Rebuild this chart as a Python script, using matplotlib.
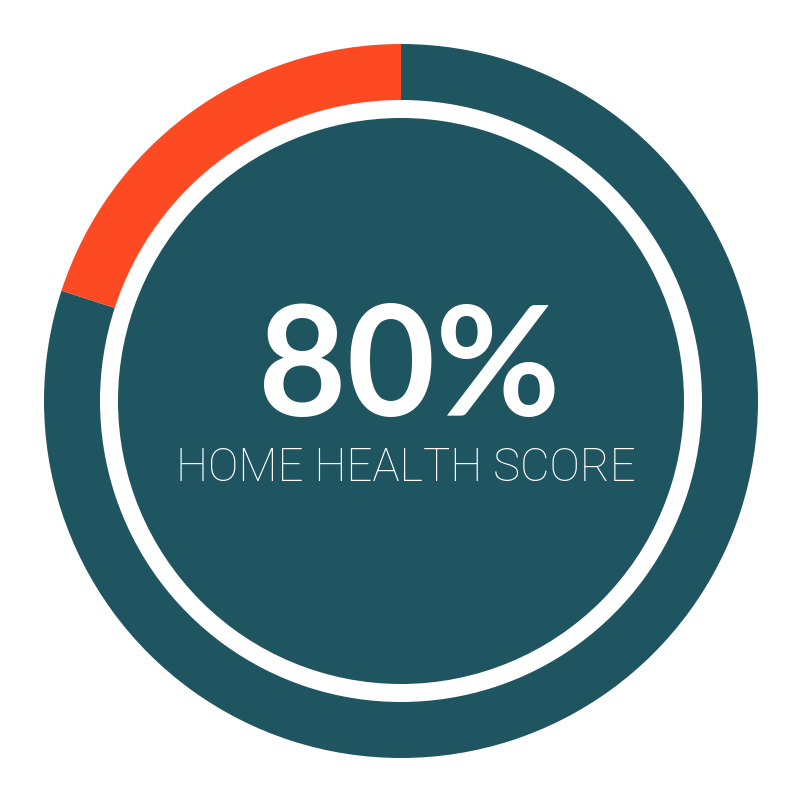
import matplotlib
matplotlib.use("Agg")
import matplotlib.pyplot as plt
from matplotlib.patches import Circle

labels = ["Score", "Remaining"]
values = [80, 20]
colors = ["#1F5560", "#FE4A22"]
score_text = "80%"
subtitle = "HOME HEALTH SCORE"

fig = plt.figure(figsize=(8.01, 8.01), dpi=100)
ax = fig.add_axes([0, 0, 1, 1])
ax.pie(values, colors=colors, startangle=90, counterclock=False, radius=357,
       wedgeprops=dict(width=56, linewidth=0, antialiased=True))
ax.add_patch(Circle((0, 0), 283, color=colors[0], linewidth=0))
ax.set_xlim(-401, 400)
ax.set_ylim(-400, 401)
ax.set_aspect("equal")
ax.axis("off")

ax.text(8, 29, score_text, ha="center", va="center", color="white",
        fontsize=110, fontweight="bold", family=["Lato", "DejaVu Sans"])
ax.text(5, -67, subtitle, ha="center", va="center", color="white",
        fontsize=32.8, fontweight="light", family=["Roboto", "DejaVu Sans"])

fig.savefig("out.png", dpi=100, facecolor="white")
